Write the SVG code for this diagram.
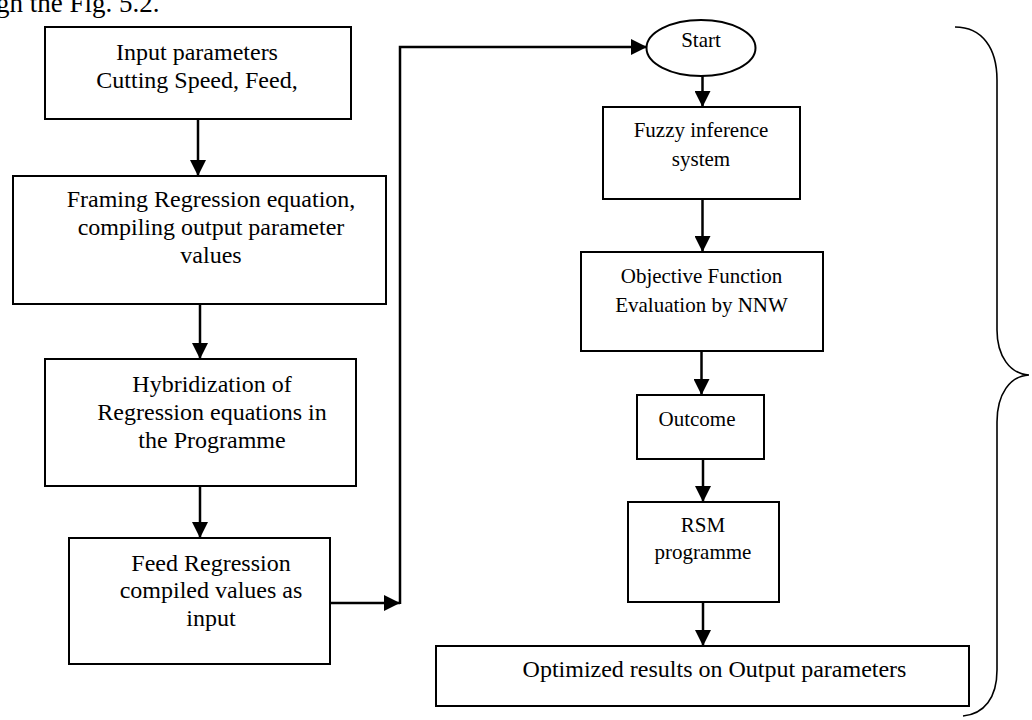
<svg xmlns="http://www.w3.org/2000/svg" width="1032" height="720" viewBox="0 0 1032 720">
<defs>
<style>
.box{fill:#fff;stroke:#000;stroke-width:2}
.t{font-family:"Liberation Serif","Times New Roman",serif;fill:#000;text-anchor:middle}
.l{font-size:24px}
.r{font-size:21px}
.c{fill:none;stroke:#000;stroke-width:2.5}
.brace{fill:none;stroke:#000;stroke-width:1.6}
</style>
<marker id="ah" viewBox="0 0 16 16" refX="16" refY="8" markerWidth="16" markerHeight="16" markerUnits="userSpaceOnUse" orient="auto">
<path d="M0,0 L16,8 L0,16 Z" fill="#000"/>
</marker>
</defs>
<rect width="1032" height="720" fill="#fff"/>
<text class="t" x="-4" y="12" style="font-size:27px;text-anchor:start">gh the Fig. 5.2.</text>

<g id="connectors">
<path class="c" d="M198,119 L198,176" marker-end="url(#ah)"/>
<path class="c" d="M200,304 L200,359" marker-end="url(#ah)"/>
<path class="c" d="M200,486 L200,538" marker-end="url(#ah)"/>
<path class="c" d="M330,603 L400,603" marker-end="url(#ah)"/>
<path class="c" d="M400,604 L400,47 L647,47" marker-end="url(#ah)"/>
<path class="c" d="M702.5,76 L702.5,107" marker-end="url(#ah)"/>
<path class="c" d="M702.5,199 L702.5,252" marker-end="url(#ah)"/>
<path class="c" d="M701.5,351 L701.5,395" marker-end="url(#ah)"/>
<path class="c" d="M703,459 L703,502" marker-end="url(#ah)"/>
<path class="c" d="M703,602 L703,646" marker-end="url(#ah)"/>
</g>

<g id="n-input">
<rect class="box" x="45" y="27" width="306" height="92"/>
<text class="t l" x="197" y="60">Input parameters</text>
<text class="t l" x="197" y="88">Cutting Speed, Feed,</text>
</g>
<g id="n-framing">
<rect class="box" x="13" y="176" width="373" height="128"/>
<text class="t l" x="211" y="207">Framing Regression equation,</text>
<text class="t l" x="211" y="235">compiling output parameter</text>
<text class="t l" x="211" y="263">values</text>
</g>
<g id="n-hybrid">
<rect class="box" x="45" y="359" width="311" height="127"/>
<text class="t l" x="212" y="392">Hybridization of</text>
<text class="t l" x="212" y="420">Regression equations in</text>
<text class="t l" x="212" y="448">the Programme</text>
</g>
<g id="n-feed">
<rect class="box" x="69" y="538" width="261" height="126"/>
<text class="t l" x="211" y="571">Feed Regression</text>
<text class="t l" x="211" y="598">compiled values as</text>
<text class="t l" x="211" y="626">input</text>
</g>
<g id="n-start">
<ellipse class="box" cx="701" cy="48" rx="54.5" ry="28"/>
<text class="t r" x="701" y="47">Start</text>
</g>
<g id="n-fuzzy">
<rect class="box" x="603" y="107" width="197" height="92"/>
<text class="t r" x="701" y="137">Fuzzy inference</text>
<text class="t r" x="701" y="166">system</text>
</g>
<g id="n-objective">
<rect class="box" x="581" y="252" width="242" height="99"/>
<text class="t r" x="701.5" y="283">Objective Function</text>
<text class="t r" x="701.5" y="312">Evaluation by NNW</text>
</g>
<g id="n-outcome">
<rect class="box" x="637" y="395" width="127" height="64"/>
<text class="t r" x="697" y="426">Outcome</text>
</g>
<g id="n-rsm">
<rect class="box" x="628" y="502" width="151" height="100"/>
<text class="t r" x="703" y="532">RSM</text>
<text class="t r" x="703" y="559">programme</text>
</g>
<g id="n-optimized">
<rect class="box" x="436" y="646" width="533" height="60"/>
<text class="t l" x="714.5" y="677">Optimized results on Output parameters</text>
</g>
<g id="brace">
<path class="brace" d="M955,27 C982,27 997,48 997,80 L997,330 C997,356 1010,374 1029,375 C1010,376 997,394 997,422 L997,670 C997,698 984,714 963,716"/>
</g>
</svg>
